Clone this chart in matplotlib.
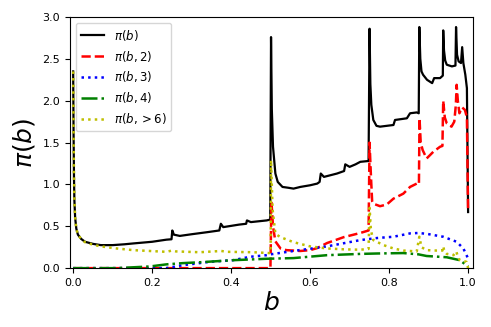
import matplotlib
matplotlib.use("Agg")
import matplotlib.pyplot as plt

# pi(b)
b_all = [0, 0.001, 0.002, 0.003, 0.005, 0.008, 0.012, 0.02, 0.03, 0.05, 0.07, 0.1, 0.13, 0.152,
         0.2, 0.236, 0.249, 0.251, 0.255, 0.27, 0.3, 0.34, 0.37, 0.374, 0.38, 0.42, 0.438, 0.44,
         0.45, 0.47, 0.49, 0.499, 0.501, 0.503, 0.506, 0.512, 0.518, 0.53, 0.545, 0.558, 0.575,
         0.6, 0.618, 0.624, 0.627, 0.635, 0.668, 0.686, 0.689, 0.70, 0.715, 0.727, 0.748, 0.7505,
         0.7525, 0.755, 0.76, 0.768, 0.777, 0.794, 0.811, 0.815, 0.83, 0.845, 0.853, 0.87, 0.875,
         0.8765, 0.879, 0.882, 0.886, 0.896, 0.909, 0.914, 0.929, 0.936, 0.937, 0.939, 0.942,
         0.946, 0.959, 0.968, 0.9695, 0.972, 0.976, 0.982, 0.985, 0.988, 0.993, 0.997, 1.0]
pi_all = [2.35, 1.6, 1.1, 0.82, 0.6, 0.47, 0.40, 0.35, 0.315, 0.29, 0.275, 0.275, 0.285, 0.295,
          0.315, 0.34, 0.345, 0.45, 0.40, 0.385, 0.405, 0.43, 0.45, 0.53, 0.49, 0.52, 0.53, 0.57,
          0.55, 0.56, 0.57, 0.58, 2.76, 1.9, 1.45, 1.13, 1.03, 0.97, 0.96, 0.95, 0.97,
          0.99, 1.01, 1.03, 1.13, 1.09, 1.13, 1.16, 1.24, 1.21, 1.24, 1.27, 1.28, 2.86,
          2.2, 1.95, 1.77, 1.70, 1.69, 1.70, 1.71, 1.77, 1.78, 1.79, 1.85, 1.86, 1.85,
          2.88, 2.5, 2.35, 2.31, 2.25, 2.21, 2.27, 2.27, 2.30, 2.84, 2.6, 2.48,
          2.43, 2.41, 2.42, 2.88, 2.55, 2.47, 2.45, 2.64, 2.45, 2.31, 2.15, 0.67]

# pi(b, 2)
b_2 = [0, 0.4995, 0.502, 0.506, 0.512, 0.525, 0.54, 0.575, 0.6, 0.618, 0.643, 0.685, 0.727,
       0.748, 0.7505, 0.754, 0.757, 0.76, 0.777, 0.794, 0.811, 0.836, 0.853, 0.87, 0.8755,
       0.877, 0.88, 0.885, 0.895, 0.912, 0.929, 0.935, 0.937, 0.941, 0.946, 0.958, 0.965,
       0.969, 0.971, 0.974, 0.978, 0.985, 0.992, 0.997, 1.0]
pi_2 = [0, 0, 0.8, 0.5, 0.32, 0.235, 0.215, 0.205, 0.215, 0.24, 0.30, 0.37, 0.42,
        0.45, 1.5, 1.1, 0.8, 0.77, 0.74, 0.76, 0.83, 0.89, 0.97, 1.01, 1.0,
        1.79, 1.5, 1.41, 1.31, 1.39, 1.45, 1.46, 2.0, 1.8, 1.73, 1.69, 1.75,
        1.95, 2.19, 2.0, 1.85, 1.92, 1.89, 1.8, 0.67]

# pi(b, 3)
b_3 = [0, 0.236, 0.278, 0.345, 0.405, 0.447, 0.49, 0.5, 0.558, 0.643, 0.727, 0.77, 0.811,
       0.853, 0.874, 0.895, 0.937, 0.971, 0.988, 1.0]
pi_3 = [0, 0, 0.035, 0.075, 0.095, 0.135, 0.155, 0.165, 0.205, 0.26, 0.335, 0.36, 0.375,
        0.415, 0.42, 0.41, 0.375, 0.315, 0.235, 0.115]

# pi(b, 4)
b_4 = [0, 0.11, 0.194, 0.236, 0.278, 0.32, 0.405, 0.49, 0.558, 0.643, 0.727, 0.77, 0.836,
       0.874, 0.895, 0.946, 0.979, 1.0]
pi_4 = [0, 0, 0.02, 0.045, 0.06, 0.07, 0.095, 0.112, 0.12, 0.155, 0.17, 0.175, 0.18,
        0.165, 0.145, 0.13, 0.095, 0.02]

# pi(b, >6)
b_6 = [0, 0.001, 0.002, 0.003, 0.005, 0.008, 0.012, 0.02, 0.03, 0.05, 0.07, 0.11, 0.152,
       0.236, 0.25, 0.26, 0.32, 0.375, 0.39, 0.456, 0.495, 0.5, 0.501, 0.505, 0.512, 0.525,
       0.558, 0.6, 0.643, 0.685, 0.727, 0.748, 0.7505, 0.754, 0.76, 0.786, 0.811, 0.836, 0.87,
       0.8765, 0.882, 0.895, 0.92, 0.935, 0.937, 0.94, 0.946, 0.963, 0.97, 0.974, 0.979,
       0.996, 1.0]
pi_6 = [2.35, 1.6, 1.1, 0.82, 0.6, 0.47, 0.40, 0.35, 0.31, 0.28, 0.26, 0.235, 0.215,
        0.195, 0.21, 0.2, 0.19, 0.205, 0.195, 0.19, 0.18, 0.18, 1.29, 0.7, 0.41, 0.37,
        0.31, 0.26, 0.235, 0.225, 0.22, 0.23, 0.72, 0.45, 0.335, 0.275, 0.235, 0.21, 0.2,
        0.375, 0.25, 0.215, 0.21, 0.21, 0.26, 0.2, 0.17, 0.155, 0.2, 0.14, 0.095,
        0.075, 0.0]

labels = [r'$\pi(b)$', r'$\pi(b,2)$', r'$\pi(b,3)$', r'$\pi(b,4)$', r'$\pi(b,>6)$']

fig = plt.figure(figsize=(4.91, 3.27), dpi=100)
ax = fig.add_axes([0.1426, 0.180, 0.8204, 0.768])

ax.plot(b_all, pi_all, color='k', ls='-', lw=1.6, label=labels[0])
ax.plot(b_2, pi_2, color='r', ls='--', lw=1.8, label=labels[1])
ax.plot(b_3, pi_3, color='b', ls=':', lw=1.8, label=labels[2])
ax.plot(b_4, pi_4, color='g', ls='-.', lw=1.8, label=labels[3])
ax.plot(b_6, pi_6, color='y', ls=':', lw=1.8, label=labels[4])

ax.set_xlim(-0.008, 1.012)
ax.set_ylim(0, 3.0)
ax.set_xlabel(r'$b$', fontsize=18, labelpad=2)
ax.set_ylabel(r'$\pi(b)$', fontsize=18)
ax.tick_params(labelsize=8)
ax.legend(loc='upper left', fontsize=8.5)

fig.savefig('out.png', dpi=100)
